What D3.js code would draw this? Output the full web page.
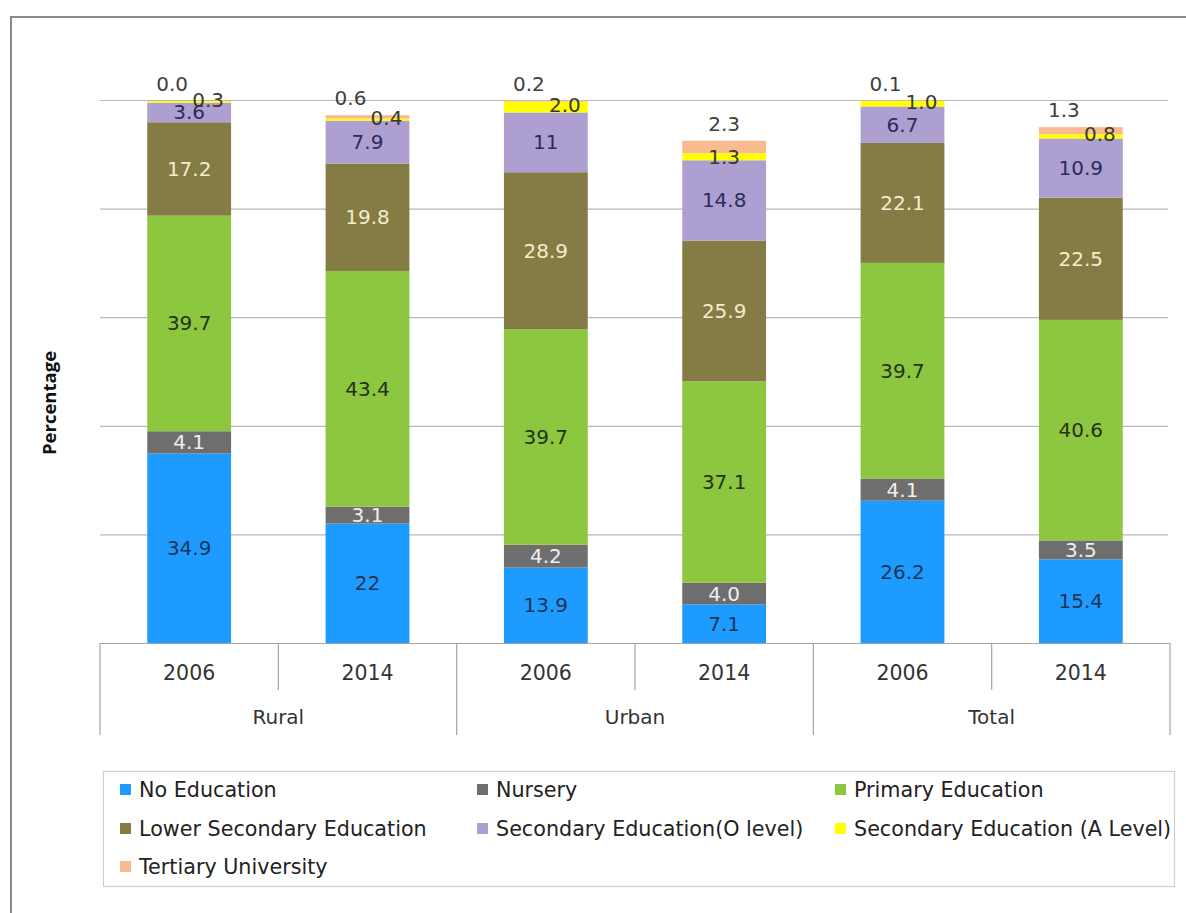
<!DOCTYPE html>
<html><head><meta charset="utf-8">
<script src="https://cdn.jsdelivr.net/npm/d3@7"></script>
<style>
html,body{margin:0;padding:0;background:#fff;}
svg{display:block;font-family:"DejaVu Sans",sans-serif;}
</style></head>
<body>
<svg id="chart" width="1186" height="913"></svg>
<script>
// ---- data ----
const groups = ["Rural","Urban","Total"];
const years = ["2006","2014","2006","2014","2006","2014"];
const seriesNames = ["No Education","Nursery","Primary Education","Lower Secondary Education","Secondary Education(O level)","Secondary Education (A Level)","Tertiary University"];
const noEducation   = [34.9, 22.0, 13.9, 7.1, 26.2, 15.4];
const nursery       = [4.1, 3.1, 4.2, 4.0, 4.1, 3.5];
const primary       = [39.7, 43.4, 39.7, 37.1, 39.7, 40.6];
const lowerSecond   = [17.2, 19.8, 28.9, 25.9, 22.1, 22.5];
const oLevel        = [3.6, 7.9, 11.0, 14.8, 6.7, 10.9];
const aLevel        = [0.3, 0.4, 2.0, 1.3, 1.0, 0.8];
const tertiary      = [0.0, 0.6, 0.2, 2.3, 0.1, 1.3];
const labelText = [
  ["34.9","22","13.9","7.1","26.2","15.4"],
  ["4.1","3.1","4.2","4.0","4.1","3.5"],
  ["39.7","43.4","39.7","37.1","39.7","40.6"],
  ["17.2","19.8","28.9","25.9","22.1","22.5"],
  ["3.6","7.9","11","14.8","6.7","10.9"],
  ["0.3","0.4","2.0","1.3","1.0","0.8"],
  ["0.0","0.6","0.2","2.3","0.1","1.3"]
];
const yTicks = [0,20,40,60,80,100];

const colors = ["#1e9bff","#6e6e6e","#8dc63f","#857b45","#ad9fcf","#ffff00","#f8bb8f"];
const labelColors = ["#1c3557","#eeeeee","#23321a","#f3edcb","#2c2b5c","#3a3a22","#404040"];

const allSeries = [noEducation,nursery,primary,lowerSecond,oLevel,aLevel,tertiary];
const keys = years.map((y,i)=>groups[Math.floor(i/2)]+"-"+y);
const rows = keys.map((k,i)=>{const o={key:k}; seriesNames.forEach((s,j)=>o[s]=allSeries[j][i]); return o;});

const svg = d3.select("#chart");

// outer frame
svg.append("path").attr("d","M11,913 L11,17 L1186,17").attr("fill","none").attr("stroke","#8a8a8a").attr("stroke-width",2);

const x = d3.scaleBand().domain(keys).range([100,1170]).paddingInner(0.53).paddingOuter(0.265);
const y = d3.scaleLinear().domain([0,100]).range([643,100]);

// gridlines
const grid = svg.append("g").attr("transform","translate(100,0)")
  .call(d3.axisLeft(y).tickValues(yTicks).tickSize(-1068).tickFormat(""));
grid.select(".domain").remove();
grid.selectAll(".tick line").attr("stroke","#b8b8b8").attr("stroke-width",1.2);

// stacks
const stack = d3.stack().keys(seriesNames)(rows);
const layers = svg.append("g").selectAll("g").data(stack).join("g").attr("fill",(d,i)=>colors[i]);
layers.selectAll("rect").data(d=>d).join("rect")
  .attr("x",d=>x(d.data.key)).attr("width",x.bandwidth())
  .attr("y",d=>y(d[1])).attr("height",d=>y(d[0])-y(d[1]));

// data labels
const lab = svg.append("g").attr("font-size",20).attr("text-anchor","middle");
stack.forEach((layer,si)=>{
  layer.forEach((d,i)=>{
    const cx = x(keys[i]) + x.bandwidth()/2;
    let ly = (y(d[0])+y(d[1]))/2;
    let lx = cx;
    const big = tertiary[i] >= 2;
    if(si===5 && !big){ lx = cx + 19; ly -= 2; }
    if(si===6){ ly = y(d[1]) - 17; lx = big ? cx : cx - 17; }
    lab.append("text").attr("x",lx).attr("y",ly).attr("dy","0.35em")
      .attr("fill",labelColors[si]).text(labelText[si][i]);
  });
});

// category axis
const ax = svg.append("g").attr("stroke","#a6a6a6").attr("stroke-width",1.2);
ax.append("line").attr("x1",100).attr("x2",1170).attr("y1",643.5).attr("y2",643.5);
const step = x.step();
const bounds = d3.range(7).map(i=>100+i*step);
bounds.forEach((b,i)=>{
  ax.append("line").attr("x1",b).attr("x2",b).attr("y1",643).attr("y2",i%2===0?735:690);
});
svg.append("g").attr("font-size",20.5).attr("fill","#333").attr("text-anchor","middle")
  .selectAll("text").data(keys).join("text")
  .attr("x",d=>x(d)+x.bandwidth()/2).attr("y",680).text((d,i)=>years[i]);
svg.append("g").attr("font-size",20).attr("fill","#333").attr("text-anchor","middle")
  .selectAll("text").data(groups).join("text")
  .attr("x",(d,i)=>100+step*(2*i+1)).attr("y",724).text(d=>d);

// y title
svg.append("text").attr("transform","translate(56,403) rotate(-90)").attr("text-anchor","middle")
  .attr("font-family","'Open Sans',sans-serif")
  .attr("font-size",18.5).attr("font-weight","bold").attr("fill","#111").text("Percentage");

// legend
svg.append("rect").attr("x",103.5).attr("y",771.5).attr("width",1071).attr("height",115)
  .attr("fill","none").attr("stroke","#cfcfcf").attr("stroke-width",1.2);
const colX = [120,477,835];
const rowY = [790,829,867];
const lg = svg.append("g").selectAll("g").data(seriesNames).join("g")
  .attr("transform",(d,i)=>`translate(${colX[i%3]},${rowY[Math.floor(i/3)]})`);
lg.append("rect").attr("x",0).attr("y",-6).attr("width",11).attr("height",11).attr("fill",(d,i)=>colors[i]);
lg.append("text").attr("x",19).attr("dy","0.35em").attr("font-size",20.7).attr("fill","#222").text(d=>d);
</script>
</body></html>
